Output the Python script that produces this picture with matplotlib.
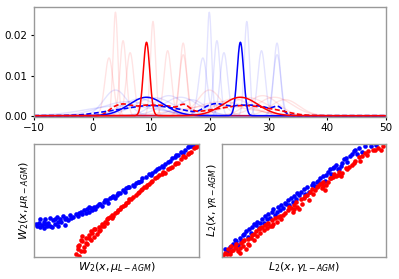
import matplotlib.pyplot as plt
import numpy as np

# top panel: gaussian bumps (mean, std, peak height)
red_narrow_mu = [2.8, 3.9, 5.2, 6.4, 10.3, 12.8, 15.45, 15.45]
red_narrow_sd = [0.70, 0.40, 0.54, 0.64, 0.43, 0.62, 0.56, 0.66]
red_narrow_pk = [0.0144, 0.0258, 0.0187, 0.0157, 0.0235, 0.0162, 0.0181, 0.0152]
blue_narrow_mu = [18.8, 19.9, 21.2, 22.4, 26.3, 28.8, 31.45, 31.45]

blue_broad_mu = [3.9, 6.0, 8.0, 10.5, 13.0, 15.0, 16.8, 5.0]
blue_broad_sd = [2.0, 4.5, 3.0, 3.3, 2.6, 3.0, 2.4, 6.0]
blue_broad_pk = [0.0064, 0.0035, 0.0042, 0.0045, 0.0050, 0.0046, 0.0040, 0.0025]
red_broad_mu = [19.9, 22.0, 24.0, 26.5, 29.0, 31.0, 32.8, 21.0]

# barycenters
narrow_bary = dict(red=9.2, blue=25.2, sd=0.55, pk=0.0183)
broad_bary = dict(blue=9.2, red=25.2, sd=3.0, pk=0.0046)

# dashed means
dash_red_mu = [3.5, 5.2, 7.0, 9.0, 11.0, 13.0, 15.5]
dash_red_pk = [0.0016, 0.0022, 0.0018, 0.0021, 0.0021, 0.0019, 0.0023]
dash_blue_mu = [10.0, 2.5, 16.0]
dash_blue_sd = [4.2, 3.0, 2.0]
dash_blue_pk = [0.0025, 0.0006, 0.0004]
shift = 16.0

# scatter panels (percent units)
w_blue = [(0,29),(1,27),(2,30),(3,26),(4,28),(5,31),(5,25),(6,33),(7,27),(8,30),(9,34),(10,26),
          (11,32),(12,29),(13,35),(14,27),(15,33),(16,31),(17,36),(18,28),(19,34),(20,32),(21,37),
          (23,35),(25,38),(26,36),(28,40),(29,38),(30,41),(31,39),(32,42),(33,40),(34,43),(35,41),
          (36,44),(38,45),(40,47),(42,49),(44,50),(46,52),(48,54),(50,55),(52,57),(54,59),(56,61),
          (58,62),(60,64),(62,66),(64,67),(66,70),(68,71),(70,74),(72,75),(74,77),(76,79),(78,81),
          (80,83),(82,85),(84,88),(86,89),(88,91),(90,94),(92,96),(94,98),(96,99),(98,100),
          (3,33),(6,29),(9,27),(12,33),(14,31),(18,33),(22,34),(27,39),(33,44),(37,42),(39,47),
          (41,45),(43,50),(45,48),(47,53),(49,52),(51,57),(55,58),(57,62),(61,63),(63,67),(65,68),
          (71,73),(75,78),(79,80),(83,86),(87,91),(91,93),(95,99)]
w_red = [(25,2),(26,6),(27,0),(27,10),(28,4),(29,13),(30,8),(31,16),(29,18),(32,11),(33,19),(34,14),
         (35,21),(36,17),(37,24),(38,20),(39,26),(40,23),(41,29),(42,27),(43,31),(44,30),(45,34),
         (46,35),(47,37),(48,36),(50,40),(52,42),(53,44),(55,46),(56,48),(58,51),(60,53),(62,55),
         (64,58),(65,59),(67,62),(69,64),(70,65),(72,68),(74,70),(76,73),(78,74),(80,75),(82,78),
         (84,80),(86,83),(88,84),(90,87),(92,89),(94,92),(96,94),(98,97),(100,99),
         (26,9),(28,14),(30,4),(31,12),(33,16),(34,22),(36,24),(39,22),(41,27),(44,33),(47,34),
         (49,39),(51,41),(54,45),(57,49),(59,51),(63,57),(66,60),(68,62),(71,67),(75,71),(79,76),
         (83,79),(87,84),(91,90),(95,93),(99,98)]
l_blue = [(1,6),(2,3),(4,8),(6,11),(7,14),(9,10),(10,16),(11,13),(12,19),(14,22),(15,17),(16,24),
          (17,21),(18,26),(20,28),(21,31),(22,25),(24,33),(25,30),(26,36),(28,38),(29,34),(30,40),
          (31,42),(32,37),(34,44),(35,41),(36,46),(38,48),(40,50),(41,46),(42,52),(44,54),(45,51),
          (46,57),(48,58),(50,60),(52,62),(53,58),(55,64),(56,66),(58,67),(60,70),(62,72),(63,68),
          (65,76),(66,78),(67,74),(69,80),(70,82),(72,78),(74,84),(75,87),(77,85),(79,90),(80,92),
          (82,96),(84,97),(86,94),(88,99),(92,99),(95,100),
          (3,5),(8,13),(13,20),(19,29),(23,30),(27,33),(33,40),(37,43),(39,47),(43,49),(47,55),
          (51,56),(57,63),(59,68),(61,66),(64,73),(68,79),(71,78),(73,81),(76,88),(81,95),(83,92)]
l_red = [(0,1),(1,3),(3,6),(4,2),(5,9),(6,5),(7,8),(8,11),(9,4),(10,7),(11,12),(12,9),(13,14),
         (14,6),(15,11),(16,10),(17,16),(18,19),(19,14),(20,22),(21,18),(22,24),(23,21),(24,26),
         (25,23),(26,28),(27,25),(28,30),(29,27),(30,32),(31,29),(32,34),(33,31),(35,36),(36,33),
         (38,39),(40,41),(42,43),(43,40),(44,46),(45,49),(46,44),(47,42),(48,51),(50,52),(52,55),
         (53,50),(54,58),(55,60),(56,56),(58,62),(60,65),(61,61),(62,67),(63,59),(64,64),(66,70),
         (68,71),(70,72),(72,76),(74,75),(76,79),(78,80),(80,82),(82,86),(84,89),(86,90),(88,93),
         (90,95),(93,96),(96,97),(99,99),
         (2,2),(5,4),(8,7),(10,3),(12,13),(15,15),(19,20),(23,25),(27,29),(30,27),(34,35),(37,37),
         (41,44),(44,42),(49,47),(51,54),(57,59),(59,63),(62,63),(65,67),(67,70),(69,74),(71,73),
         (73,72),(77,78),(81,84),(85,86),(89,91),(94,96),(98,96)]


def bump(x, mu, sd, pk):
    return pk * np.exp(-(x - mu) ** 2 / (2 * sd ** 2))


x = np.linspace(-10, 50, 3000)
spine_col = "0.6"
plt.rcParams["font.size"] = 7

fig = plt.figure(figsize=(3.99, 2.79), dpi=100)
ax = fig.add_axes([0.085, 0.581, 0.882, 0.394])
ax1 = fig.add_axes([0.085, 0.079, 0.414, 0.405])
ax2 = fig.add_axes([0.556, 0.079, 0.411, 0.405])

# faint curves
for m, s, p in zip(blue_broad_mu, blue_broad_sd, blue_broad_pk):
    ax.plot(x, bump(x, m, s, p), color="blue", alpha=0.11, lw=1)
for m, s, p in zip(blue_narrow_mu, red_narrow_sd, red_narrow_pk):
    ax.plot(x, bump(x, m, s, p), color="blue", alpha=0.11, lw=1)
for m, s, p in zip(red_broad_mu, blue_broad_sd, blue_broad_pk):
    ax.plot(x, bump(x, m, s, p), color="red", alpha=0.11, lw=1)
for m, s, p in zip(red_narrow_mu, red_narrow_sd, red_narrow_pk):
    ax.plot(x, bump(x, m, s, p), color="red", alpha=0.11, lw=1)

# dashed means
dr = sum(bump(x, m, 1.0, p) for m, p in zip(dash_red_mu, dash_red_pk))
db = sum(bump(x, m, s, p) for m, s, p in zip(dash_blue_mu, dash_blue_sd, dash_blue_pk))
dr2 = sum(bump(x, m + shift, s, p) for m, s, p in zip(dash_blue_mu, dash_blue_sd, dash_blue_pk))
db2 = sum(bump(x, m + shift, 1.0, p) for m, p in zip(dash_red_mu, dash_red_pk))
ax.plot(x, db + db2, color="blue", ls="--", lw=1.2, dashes=(3, 1.5))
ax.plot(x, dr + dr2, color="red", ls="--", lw=1.2, dashes=(3, 1.5))

# barycenters
ax.plot(x, bump(x, broad_bary["blue"], broad_bary["sd"], broad_bary["pk"])
        + bump(x, narrow_bary["blue"], narrow_bary["sd"], narrow_bary["pk"]), color="blue", lw=1.1)
ax.plot(x, bump(x, narrow_bary["red"], narrow_bary["sd"], narrow_bary["pk"])
        + bump(x, broad_bary["red"], broad_bary["sd"], broad_bary["pk"]), color="red", lw=1.1)

ax.set_xlim(-10, 50)
ax.set_ylim(-0.0003, 0.0271)
ax.set_xticks([-10, 0, 10, 20, 30, 40, 50])
ax.set_yticks([0.0, 0.01, 0.02])
ax.tick_params(length=2.5, width=0.8, pad=2, labelsize=7.5)

for a, pts_b, pts_r in [(ax1, w_blue, w_red), (ax2, l_blue, l_red)]:
    b = np.array(pts_b)
    r = np.array(pts_r)
    a.scatter(b[:, 0], b[:, 1], s=11, color="blue", lw=0)
    a.scatter(r[:, 0], r[:, 1], s=11, color="red", lw=0)
    a.set_xlim(-1, 101)
    a.set_ylim(-1, 101)
    a.set_xticks([])
    a.set_yticks([])

ax1.set_xlabel(r"$W_2(x, \mu_{L-AGM})$", fontsize=8, labelpad=2)
ax1.set_ylabel(r"$W_2(x, \mu_{R-AGM})$", fontsize=8, labelpad=2)
ax2.set_xlabel(r"$L_2(x, \gamma_{L-AGM})$", fontsize=8, labelpad=2)
ax2.set_ylabel(r"$L_2(x, \gamma_{R-AGM})$", fontsize=8, labelpad=2)

for a in [ax, ax1, ax2]:
    for sp in a.spines.values():
        sp.set_color(spine_col)
        sp.set_linewidth(1.0)

fig.savefig("out.png", dpi=100)
